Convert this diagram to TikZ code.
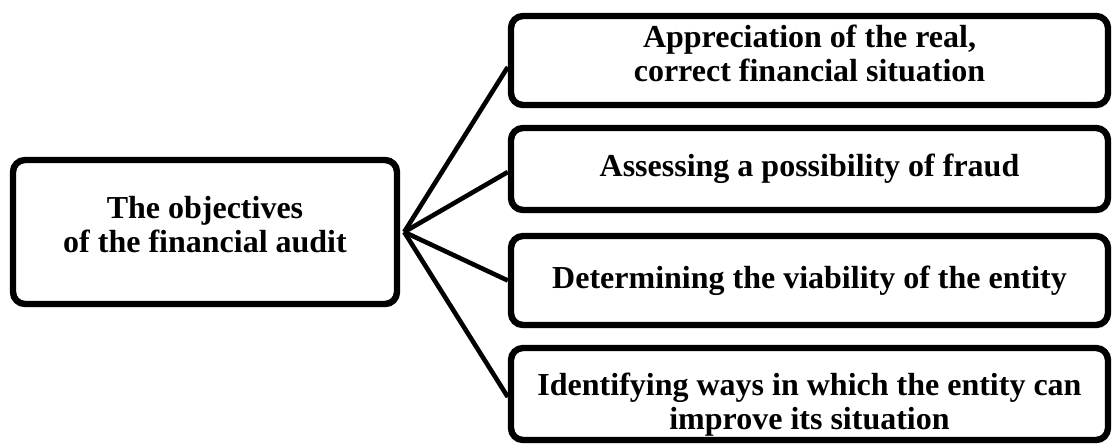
\documentclass[tikz,border=0pt]{standalone}
\usepackage{fontspec}
\setmainfont{Liberation Serif}
\usetikzlibrary{shadows}
\newcommand{\lines}[2]{\raisebox{#1}[\height][\depth]{\begin{tabular}{@{}c@{}}#2\end{tabular}}}
\begin{document}
\begin{tikzpicture}[x=0.5pt,y=-0.5pt,
  objbox/.style={draw=black, line width=3.2pt, rounded corners=6pt, fill=white,
    align=center, inner sep=0pt,
    font=\fontsize{16}{17}\selectfont\bfseries,
    drop shadow={shadow xshift=0.8pt, shadow yshift=-1.5pt, opacity=0.35, fill=gray}},
  link/.style={draw=black, line width=2.3pt}]
\useasboundingbox (0,0) rectangle (1113,446);
\node[objbox, minimum width=192pt, minimum height=72pt] (main) at (205,232)
  {\lines{1.5pt}{The objectives\\of the financial audit}};
\node[objbox, minimum width=298.5pt, minimum height=44.5pt] (b1) at (809.5,60.5)
  {\lines{1.2pt}{Appreciation of the real,\\correct financial situation}};
\node[objbox, minimum width=298.5pt, minimum height=41pt] (b2) at (809.5,169)
  {Assessing a possibility of fraud};
\node[objbox, minimum width=298.5pt, minimum height=44.5pt] (b3) at (809.5,280.5)
  {Determining the viability of the entity};
\node[objbox, minimum width=298.5pt, minimum height=46pt] (b4) at (809.5,394)
  {\lines{-6pt}{Identifying ways in which the entity can\\improve its situation}};
\draw[link] ([xshift=2pt]main.east) -- ([yshift=-3.25pt]b1.west);
\draw[link] ([xshift=2pt]main.east) -- ([yshift=-1.5pt]b2.west);
\draw[link] ([xshift=2pt]main.east) -- (b3.west);
\draw[link] ([xshift=2pt]main.east) -- ([yshift=-1.5pt]b4.west);
\end{tikzpicture}
\end{document}
